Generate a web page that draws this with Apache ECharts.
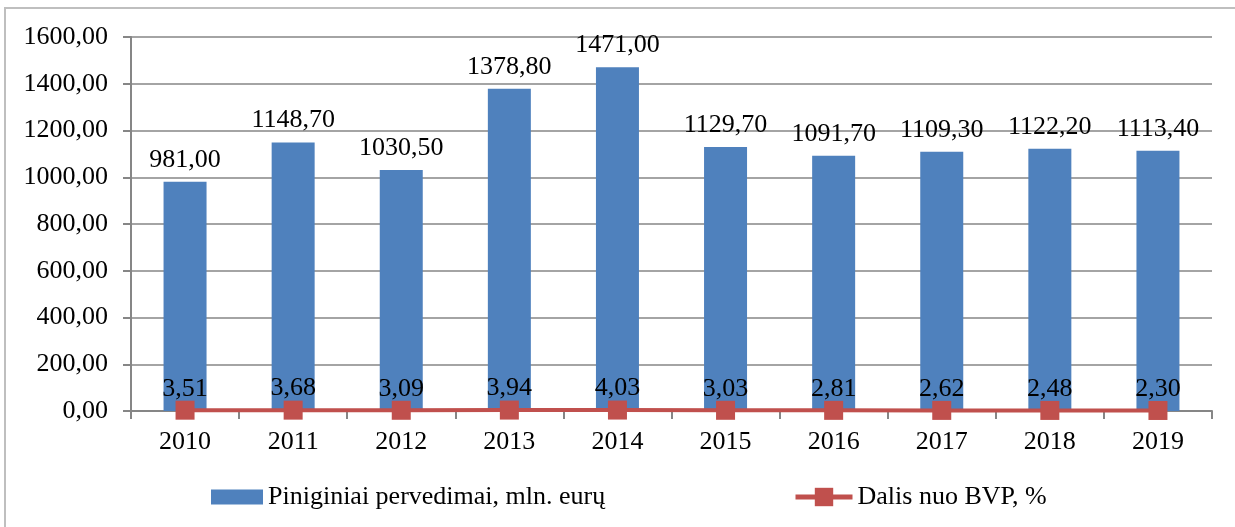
<!DOCTYPE html>
<html>
<head>
<meta charset="utf-8">
<script src="https://cdn.jsdelivr.net/npm/echarts@6/dist/echarts.min.js"></script>
<style>
  html, body { margin: 0; padding: 0; background: #fff; }
  #chart { width: 1235px; height: 527px; }
</style>
</head>
<body>
<div id="chart"></div>
<script>
// metai
var years = ['2010', '2011', '2012', '2013', '2014', '2015', '2016', '2017', '2018', '2019'];
// Piniginiai pervedimai, mln. eurų
var transfers = [981.00, 1148.70, 1030.50, 1378.80, 1471.00, 1129.70, 1091.70, 1109.30, 1122.20, 1113.40];
// Dalis nuo BVP, %
var gdpShare = [3.51, 3.68, 3.09, 3.94, 4.03, 3.03, 2.81, 2.62, 2.48, 2.30];

var font = 'Liberation Serif';
var fs = 26;
function comma(v) { return Number(v).toFixed(2).replace('.', ','); }

var chart = echarts.init(document.getElementById('chart'));
chart.setOption({
  animation: false,
  textStyle: { fontFamily: font },
  graphic: [{
    type: 'rect',
    shape: { x: 5, y: 8, width: 1400, height: 700 },
    style: { fill: 'none', stroke: '#bfbfbf', lineWidth: 2 },
    silent: true
  }],
  grid: { left: 131, right: 23, top: 37, bottom: 116 },
  legend: [{
    bottom: 12,
    left: 206,
    itemWidth: 52,
    itemHeight: 15,
    textStyle: { fontFamily: font, fontSize: fs, color: '#000' },
    data: [{ name: 'Piniginiai pervedimai, mln. eurų', icon: 'rect' }]
  }, {
    bottom: 12,
    left: 788,
    itemWidth: 57,
    itemHeight: 23,
    textStyle: { fontFamily: font, fontSize: fs, color: '#000' },
    data: [{ name: 'Dalis nuo BVP, %', lineStyle: { width: 5 } }]
  }],
  xAxis: {
    type: 'category',
    data: years,
    axisLine: { lineStyle: { color: '#868686', width: 2 } },
    axisTick: { show: true, length: 8, lineStyle: { color: '#868686', width: 2 } },
    axisLabel: { color: '#000', fontSize: fs, fontFamily: font, margin: 18 }
  },
  yAxis: {
    type: 'value',
    min: 0,
    max: 1600,
    interval: 200,
    axisLine: { show: true, lineStyle: { color: '#868686', width: 2 } },
    axisTick: { show: true, length: 8, lineStyle: { color: '#868686', width: 2 } },
    splitLine: { lineStyle: { color: '#868686', width: 1.5 } },
    axisLabel: { color: '#000', fontSize: fs, fontFamily: font, margin: 23, formatter: comma }
  },
  series: [
    {
      name: 'Piniginiai pervedimai, mln. eurų',
      type: 'bar',
      data: transfers,
      barWidth: 43,
      itemStyle: { color: '#4F81BD' },
      label: {
        show: true, position: 'top', distance: 9,
        color: '#000', fontSize: fs, fontFamily: font,
        formatter: function (p) { return comma(p.value); }
      }
    },
    {
      name: 'Dalis nuo BVP, %',
      type: 'line',
      data: gdpShare,
      symbol: 'rect',
      symbolSize: 19,
      lineStyle: { color: '#C0504D', width: 4 },
      itemStyle: { color: '#C0504D' },
      label: {
        show: true, position: 'top', distance: -1,
        color: '#000', fontSize: fs, fontFamily: font,
        formatter: function (p) { return comma(p.value); }
      }
    }
  ]
});
</script>
</body>
</html>
